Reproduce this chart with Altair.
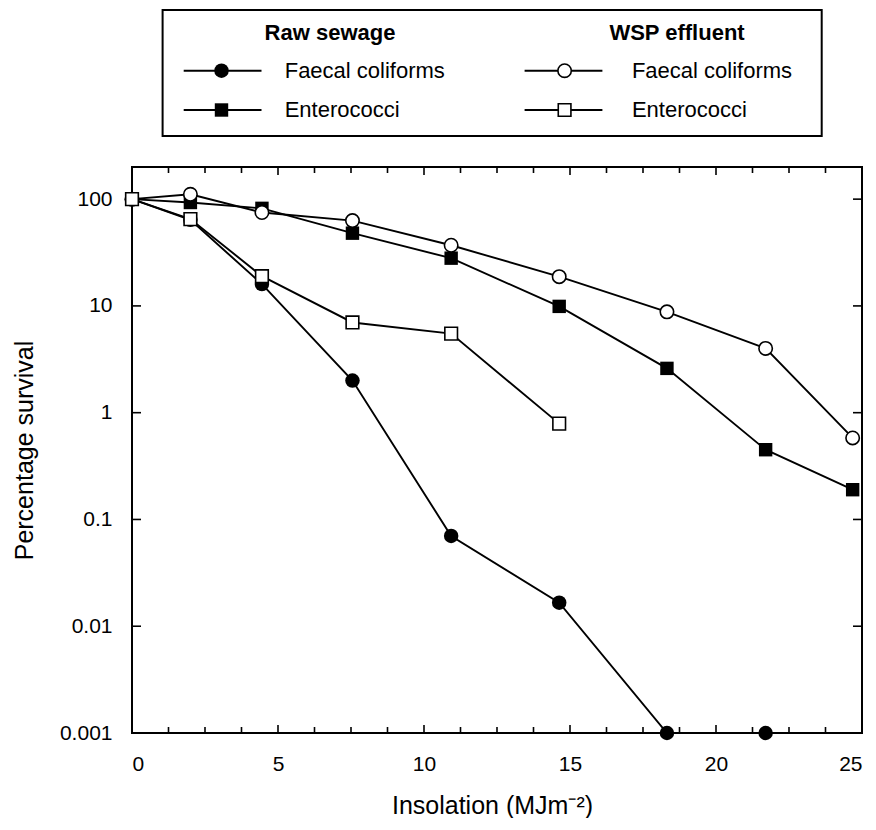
import altair as alt
import pandas as pd

# ---------------- data ----------------
insolation = [0, 2.0, 4.45, 7.55, 10.93, 14.63, 18.32, 21.7, 24.68]
raw_fc = [100, 64, 16, 2.0, 0.07, 0.0166, 0.001, 0.001]
raw_ent = [100, 93, 82, 48, 28, 9.9, 2.6, 0.45, 0.19]
wsp_fc = [100, 111, 75, 63, 37, 18.8, 8.8, 4.0, 0.58]
wsp_ent = [100, 65, 19, 7.0, 5.5, 0.79]

x_major = [0, 5, 10, 15, 20, 25]
x_minor = [1.25, 2.5, 3.75, 6.25, 7.5, 8.75, 11.25, 12.5, 13.75,
           16.25, 17.5, 18.75, 21.25, 22.5, 23.75]
y_ticks = [0.001, 0.01, 0.1, 1, 10, 100]

groups = ["Raw sewage", "WSP effluent"]
organisms = ["Faecal coliforms", "Enterococci"]

series = {
    "raw_fc": raw_fc,
    "raw_ent": raw_ent,
    "wsp_fc": wsp_fc,
    "wsp_ent": wsp_ent,
}
rows = []
for key, vals in series.items():
    for xv, yv in zip(insolation, vals):
        rows.append({"series": key, "x": xv, "y": yv})
df = pd.DataFrame(rows)

# ---------------- layout ----------------
W, H = 730, 566
FONT = "Liberation Sans"
xs = alt.Scale(domain=[0, 25], nice=False, zero=False)
ys = alt.Scale(type="log", domain=[0.001, 200], nice=False)

x_axis = alt.Axis(values=x_major, format="d", ticks=False, domain=False,
                  grid=False, labelFontSize=21, labelPadding=20, labelColor="black",
                  labelFont=FONT, title="Insolation (MJm\u207b\u00b2)", titleFont=FONT,
                  titleFontSize=25, titleFontWeight="normal", titleColor="black",
                  titleX=W / 2 - 5, titleY=80, titleBaseline="alphabetic",
                  titleAlign="center", titleAnchor="middle")
y_axis = alt.Axis(values=y_ticks, format="~g", ticks=False, domain=False,
                  grid=False, labelFontSize=21, labelPadding=20, labelColor="black",
                  labelFont=FONT, title="Percentage survival", titleFont=FONT,
                  titleFontSize=25, titleFontWeight="normal", titleColor="black",
                  titleAngle=270, titleX=-100, titleY=H / 2, titleBaseline="alphabetic",
                  titleAlign="center", titleAnchor="middle")

X = alt.X("x:Q", scale=xs, axis=x_axis)
Y = alt.Y("y:Q", scale=ys, axis=y_axis)

base = alt.Chart(df)

lines = base.mark_line(color="black", strokeWidth=1.9).encode(
    x=X, y=Y, detail="series:N",
)

def pts(key, shape, filled, size):
    m = base.transform_filter(alt.datum.series == key)
    if filled:
        mk = m.mark_point(shape=shape, filled=True, color="black", size=size, opacity=1)
    else:
        mk = m.mark_point(shape=shape, filled=True, fill="white", stroke="black",
                          strokeWidth=1.6, size=size, opacity=1)
    return mk.encode(x=X, y=Y)

p_raw_fc = pts("raw_fc", "circle", True, 210)
p_raw_ent = pts("raw_ent", "square", True, 180)
p_wsp_fc = pts("wsp_fc", "circle", False, 180)
p_wsp_ent = pts("wsp_ent", "square", False, 160)

# ---------------- inward ticks on all four sides ----------------
xmaj = pd.DataFrame({"x": x_major})
xmin = pd.DataFrame({"x": x_minor})
ytk = pd.DataFrame({"y": y_ticks})

def xt(d, y0, y1):
    return alt.Chart(d).mark_rule(color="black", strokeWidth=1.6).encode(
        x=X, y=alt.value(y0), y2=alt.value(y1))

def yt(x0, x1):
    return alt.Chart(ytk).mark_rule(color="black", strokeWidth=1.6).encode(
        y=Y, x=alt.value(x0), x2=alt.value(x1))

ticks = [xt(xmaj, H, H - 8), xt(xmin, H, H - 6), xt(xmaj, 0, 8), xt(xmin, 0, 6),
         yt(0, 9), yt(W, W - 9)]

# ---------------- legend box (drawn above the plot) ----------------
one = pd.DataFrame({"a": [0]})
LX0, LX1, LY0, LY1 = 30.6, 689.7, -157, -31
box = alt.Chart(one).mark_rect(fill="white", stroke="black", strokeWidth=2).encode(
    x=alt.value(LX0), x2=alt.value(LX1), y=alt.value(LY0), y2=alt.value(LY1))

def ltext(txt, x, y, bold=False, align="left"):
    return alt.Chart(one).mark_text(font=FONT, fontSize=22, align=align, baseline="middle",
                                    fontWeight="bold" if bold else "normal",
                                    color="black").encode(
        x=alt.value(x), y=alt.value(y), text=alt.value(txt))

def lrule(x0, x1, y):
    return alt.Chart(one).mark_rule(color="black", strokeWidth=1.9).encode(
        x=alt.value(x0), x2=alt.value(x1), y=alt.value(y))

def lpoint(x, y, shape, filled, size):
    if filled:
        mk = alt.Chart(one).mark_point(shape=shape, filled=True, color="black", size=size, opacity=1)
    else:
        mk = alt.Chart(one).mark_point(shape=shape, filled=True, fill="white", stroke="black",
                                       strokeWidth=1.6, size=size, opacity=1)
    return mk.encode(x=alt.value(x), y=alt.value(y))

HY, R1, R2 = -134, -96.3, -57
legend = [
    box,
    ltext(groups[0], 198, HY, bold=True, align="center"),
    ltext(groups[1], 545, HY, bold=True, align="center"),
    lrule(51.7, 129.5, R1), lpoint(89.5, R1, "circle", True, 210),
    lrule(51.7, 129.5, R2), lpoint(89.5, R2, "square", True, 180),
    ltext(organisms[0], 152.7, R1), ltext(organisms[1], 152.7, R2),
    lrule(392.6, 470.4, R1), lpoint(432.6, R1, "circle", False, 180),
    lrule(392.6, 470.4, R2), lpoint(432.6, R2, "square", False, 160),
    ltext(organisms[0], 499.9, R1), ltext(organisms[1], 499.9, R2),
]

chart = alt.layer(lines, *ticks, p_raw_fc, p_raw_ent, p_wsp_fc, p_wsp_ent, *legend).properties(
    width=W, height=H,
    autosize=alt.AutoSizeParams(type="none"),
    padding={"left": 124, "top": 159, "right": 6, "bottom": 85},
    background="white",
).configure_view(stroke="black", strokeWidth=2)

chart.save("out.html", embed_options={"renderer": "svg", "actions": False})
